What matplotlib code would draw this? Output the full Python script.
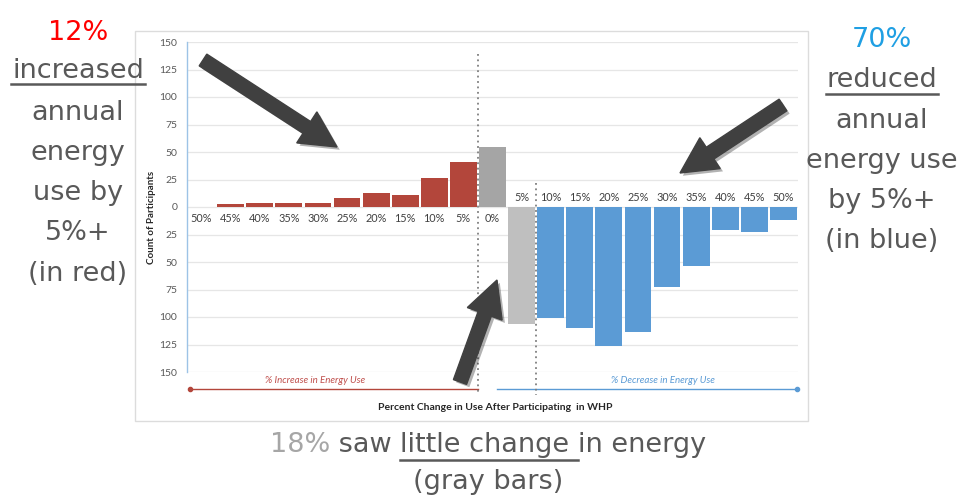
import matplotlib
matplotlib.use("Agg")
import matplotlib.pyplot as plt
import numpy as np
from matplotlib.patches import FancyArrow, Rectangle
from matplotlib.lines import Line2D
from matplotlib.font_manager import FontProperties
import matplotlib.patheffects as pe

# ---- data ---------------------------------------------------------------
categories = ["50%", "45%", "40%", "35%", "30%", "25%", "20%", "15%", "10%", "5%",
              "0%", "5%",
              "10%", "15%", "20%", "25%", "30%", "35%", "40%", "45%", "50%"]
increase_counts = [0, 2.5, 4, 4, 3.5, 8, 13, 11, 26, 41]            # % increase bins
little_change_counts = [55, 106]                                      # 0% and 5% bins
decrease_counts = [101, 110, 126, 114, 73, 54, 21, 23, 11.5]          # % decrease bins
y_ticks = [-150, -125, -100, -75, -50, -25, 0, 25, 50, 75, 100, 125, 150]

RED = "#b3463b"
GRAY_UP = "#a5a5a5"
GRAY_DOWN = "#bfbfbf"
BLUE = "#5b9bd5"
TEXT_GRAY = "#595959"

W, H = 960, 496
fig = plt.figure(figsize=(W / 100, H / 100), dpi=100)
fig.patch.set_facecolor("white")

# ---- chart axes (pixel layout) ------------------------------------------
ax_left, ax_right, ax_top, ax_bottom = 187, 798, 42, 372
ax = fig.add_axes([ax_left / W, 1 - ax_bottom / H,
                   (ax_right - ax_left) / W, (ax_bottom - ax_top) / H])

n = len(categories)
x = np.arange(n)
bw = 0.92
inc_x = x[:len(increase_counts)]
gray_x = x[len(increase_counts):len(increase_counts) + 2]
dec_x = x[len(increase_counts) + 2:]

ax.bar(inc_x, increase_counts, width=bw, color=RED, zorder=3)
ax.bar(gray_x[0], little_change_counts[0], width=bw, color=GRAY_UP, zorder=3)
ax.bar(gray_x[1], -little_change_counts[1], width=bw, color=GRAY_DOWN, zorder=3)
ax.bar(dec_x, -np.array(decrease_counts), width=bw, color=BLUE, zorder=3)

ax.set_xlim(-0.5, n - 0.5)
ax.set_ylim(-150, 150)
ax.set_yticks(y_ticks)
ax.set_yticklabels([str(abs(v)) for v in y_ticks], fontsize=7.5,
                   color=TEXT_GRAY, family="Lato")
ax.set_xticks([])
ax.tick_params(axis="y", length=0, pad=7)
ax.grid(axis="y", color="#e6e6e6", lw=0.9, zorder=0)
for s in ["top", "right", "bottom"]:
    ax.spines[s].set_visible(False)
ax.spines["left"].set_color("#9dc3e6")
ax.spines["left"].set_linewidth(1.0)

# category labels: below the zero line on the increase side, above it on the decrease side
for i, lab in enumerate(categories):
    below = i <= len(increase_counts)
    ax.annotate(lab, (i, 0), xytext=(0, -8 if below else 7), textcoords="offset points",
                ha="center", va="center", fontsize=7.8, color="#404040",
                family="Lato", zorder=4)

# dotted separators
xt = ax.get_xaxis_transform()
ax.plot([9.5, 9.5], [0.964, -0.07], transform=xt, ls=(0, (1, 2)), color="#7f7f7f",
        lw=1.3, clip_on=False, zorder=5)
ax.plot([11.5, 11.5], [0.573, -0.07], transform=xt, ls=(0, (1, 2)), color="#7f7f7f",
        lw=1.3, clip_on=False, zorder=5)

# direction lines with captions
ax.plot([-0.4, 9.5], [-0.052, -0.052], transform=xt, color=RED, lw=1, clip_on=False)
ax.plot([-0.4], [-0.052], transform=xt, marker="o", ms=3, color=RED, clip_on=False)
ax.plot([10.15, 20.45], [-0.052, -0.052], transform=xt, color=BLUE, lw=1, clip_on=False)
ax.plot([20.45], [-0.052], transform=xt, marker="o", ms=3, color=BLUE, clip_on=False)
ax.text(3.9, -0.027, "% Increase in Energy Use", transform=xt, ha="center", va="center",
        fontsize=7, style="italic", color="#c0504d", family="Lato")
ax.text(15.86, -0.027, "% Decrease in Energy Use", transform=xt, ha="center", va="center",
        fontsize=7, style="italic", color=BLUE, family="Lato")

# ---- overlay in pixel coordinates ---------------------------------------
ov = fig.add_axes([0, 0, 1, 1], zorder=5)
ov.set_xlim(0, W)
ov.set_ylim(H, 0)
ov.axis("off")
ov.patch.set_alpha(0)

ov.add_patch(Rectangle((135, 31), 673, 390, fill=False, ec="#dcdcdc", lw=1, zorder=0))

ov.text(152, 217, "Count of Participants", rotation=90, ha="center", va="center",
        fontsize=7, fontweight="bold", color="#262626", family="Lato")
ov.text(495, 407, "Percent Change in Use After Participating  in WHP", ha="center",
        va="center", fontsize=7.5, fontweight="bold", color="#262626", family="Lato")

# big arrows
shadow = [pe.withSimplePatchShadow(offset=(2, -2), shadow_rgbFace="#000000", alpha=0.3)]
for (x0, y0), (x1, y1) in [((203, 60), (337, 147)),
                           ((783, 105), (680, 173)),
                           ((460, 382), (497, 280))]:
    arr = FancyArrow(x0, y0, x1 - x0, y1 - y0, width=14, head_width=37, head_length=36,
                     length_includes_head=True, color="#404040", zorder=6)
    arr.set_path_effects(shadow)
    ov.add_patch(arr)

BIG_FAMILY = "DejaVu Sans"
BIG_SIZE = 19.5
BIG = dict(fontsize=BIG_SIZE, family=BIG_FAMILY)
renderer = fig.canvas.get_renderer()
fp = FontProperties(family=BIG_FAMILY, size=BIG_SIZE)


def ink_width(s):
    return renderer.get_text_width_height_descent(s, fp, ismath=False)[0]


def advance(s):
    return ink_width(s + "x") - ink_width("x")


def underline(xc, w, y):
    ov.add_line(Line2D([xc - w / 2, xc + w / 2], [y, y], color=TEXT_GRAY, lw=1.8))


# left block
left_lines = [("12%", "#ff0000"), ("increased", TEXT_GRAY), ("annual", TEXT_GRAY),
              ("energy", TEXT_GRAY), ("use by", TEXT_GRAY), ("5%+", TEXT_GRAY),
              ("(in red)", TEXT_GRAY)]
left_base = [40, 78, 120, 160, 200, 240, 281]
for (s, c), yb in zip(left_lines, left_base):
    ov.text(78, yb, s, ha="center", va="baseline", color=c, **BIG)
underline(78, ink_width("increased") + 2, 84)

# right block
right_lines = [("70%", "#1f9fe3"), ("reduced", TEXT_GRAY), ("annual", TEXT_GRAY),
               ("energy use", TEXT_GRAY), ("by 5%+", TEXT_GRAY), ("(in blue)", TEXT_GRAY)]
right_base = [47, 87, 128, 168, 208, 248]
for (s, c), yb in zip(right_lines, right_base):
    ov.text(882, yb, s, ha="center", va="baseline", color=c, **BIG)
underline(882, ink_width("reduced") + 2, 94)

# bottom sentence
pieces = [("18%", "#a6a6a6"), (" saw ", TEXT_GRAY), ("little change ", TEXT_GRAY),
          ("in energy", TEXT_GRAY)]
full = "".join(p for p, _ in pieces)
x_start = 488 - ink_width(full) / 2
prefix = ""
for s, c in pieces:
    xp = x_start + (advance(prefix) if prefix else 0)
    ov.text(xp, 452, s, ha="left", va="baseline", color=c, **BIG)
    if s.startswith("little"):
        ul_x0 = xp
        ul_x1 = xp + advance(s)
    prefix += s
ov.add_line(Line2D([ul_x0, ul_x1], [460, 460], color=TEXT_GRAY, lw=1.8))
ov.text(488, 489, "(gray bars)", ha="center", va="baseline", color=TEXT_GRAY, **BIG)

fig.savefig("out.png", dpi=100)
